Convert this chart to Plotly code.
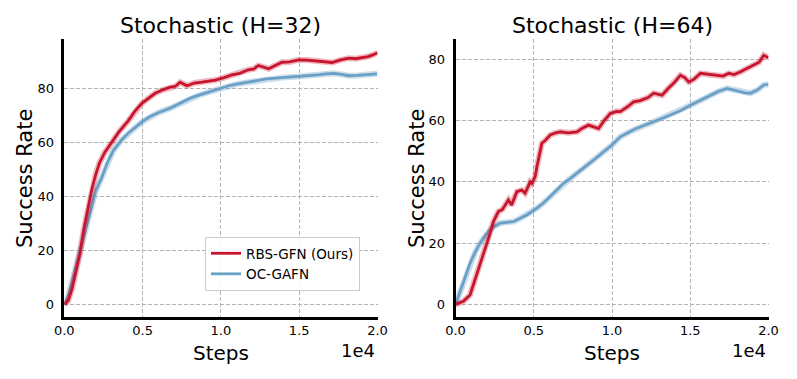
import plotly.graph_objects as go

# ---------------- data ----------------
steps_red32 = [0, 250, 500, 750, 1000, 1250, 1500, 1750, 2000, 2250, 2600, 3100, 3500, 4080, 4500,
               4950, 5400, 5800, 6300, 6760, 7100, 7400, 7830, 8300, 8800, 9300, 9640, 10200, 10700,
               11200, 11750, 12100, 12390, 13050, 13500, 13900, 14400, 14970, 15500, 16000, 16500,
               17100, 17600, 18170, 18600, 19020, 19400, 19700, 20000]
red32 = [0, 1.5, 6, 12, 19, 28, 35, 42.5, 48, 52.5, 56.5, 60.5, 64, 68, 71.5,
         74.5, 76.5, 78.2, 79.5, 80.5, 80.8, 82.3, 81, 82, 82.3, 82.8, 83.1, 84, 85,
         85.6, 86.9, 87.2, 88.5, 87.3, 88.5, 89.7, 89.8, 90.6, 90.5, 90.2, 90,
         89.6, 90.5, 91.2, 91, 91.3, 91.8, 92.4, 93.2]

steps_blue32 = [0, 250, 500, 750, 1000, 1250, 1500, 1750, 2000, 2390, 2750, 3130, 3670, 4100, 4630,
                5000, 5480, 6000, 6760, 7400, 8040, 8600, 9200, 9960, 10500, 11000, 11750, 12300,
                12900, 13900, 14970, 15500, 16200, 16700, 17200, 17700, 18170, 18700, 19300, 19980]
blue32 = [0, 3, 8.5, 14, 20, 26, 31, 37, 42, 47, 52.5, 57, 61, 63.5, 66,
          67.8, 69.6, 71, 72.7, 74.5, 76.4, 77.5, 78.6, 80, 81, 81.6, 82.3, 82.8,
          83.5, 84, 84.4, 84.6, 85, 85.4, 85.6, 85.2, 84.7, 84.8, 85, 85.4]

steps_red64 = [0, 500, 930, 1250, 1570, 1780, 2000, 2210, 2420, 2740, 3000, 3380, 3580, 3920, 4240,
               4450, 4770, 4880, 5090, 5200, 5520, 5730, 6050, 6400, 6690, 7200, 7760, 8100, 8500,
               8800, 9140, 9500, 9890, 10300, 10530, 11000, 11380, 11800, 12300, 12660, 13200,
               13600, 14000, 14370, 14650, 14900, 15250, 15650, 16200, 16720, 17100, 17460, 17800,
               18210, 18600, 19060, 19400, 19700, 20000]
red64 = [0, 1, 3.1, 8, 13.5, 16.7, 20, 23.2, 27, 30.3, 31, 34.1, 32.4, 36.8, 37.3,
         36.3, 40, 39.5, 41.7, 44.9, 52.6, 53.5, 55.3, 56, 56.3, 56, 56.3, 57.5, 58.5,
         58, 57.4, 60, 62.3, 63, 62.9, 64.5, 66.1, 66.5, 67.5, 68.9, 68.3,
         70.5, 72.5, 74.8, 74, 72.6, 73.5, 75.4, 75, 74.8, 74.5, 75.4, 75,
         75.9, 77, 78.1, 79, 81.3, 80.5]

steps_blue64 = [0, 500, 930, 1250, 1570, 1900, 2210, 2500, 2850, 3300, 3700, 4100, 4560, 5200, 5600,
                6050, 6500, 6900, 7300, 7760, 8200, 8610, 9000, 9460, 10000, 10530, 11000, 11500,
                12000, 12450, 13100, 13730, 14400, 15010, 15700, 16290, 16800, 17360, 17800, 18210,
                18500, 18850, 19300, 19700, 20000]
blue64 = [0, 6.9, 13.4, 17, 20, 22.5, 24.3, 25.5, 26.5, 26.8, 27, 28, 29.2, 31.4, 33,
          35.2, 37.5, 39.5, 41, 42.8, 44.5, 46, 47.8, 49.8, 52, 54.7, 56, 57.3,
          58.3, 59.1, 60.5, 61.8, 63.3, 65, 66.7, 68.3, 69.5, 70.5, 70, 69.4,
          69, 68.9, 70, 71.6, 71.8]

x_tickvals = [0, 5000, 10000, 15000, 20000]
x_ticktext = ["0.0", "0.5", "1.0", "1.5", "2.0"]
y_tickvals = [0, 20, 40, 60, 80]
titles = ["Stochastic (H=32)", "Stochastic (H=64)"]
series_names = ["RBS-GFN (Ours)", "OC-GAFN"]

# ---------------- style ----------------
RED = "#c8142c"
BLUE = "#6a9fc6"
RED_BAND = "rgba(200,20,44,0.30)"
BLUE_BAND = "rgba(106,159,198,0.35)"
FONT = "DejaVu Sans"
OFF = 8            # page body margin of the browser
W, H = 797 - 2 * OFF, 379 - 2 * OFF

def px(xr):
    return (xr - OFF) / W

def py(yr):
    return 1 - (yr - OFF) / H

fig = go.Figure()

def add_series(xs, ys, color, band, name, xa, ya, legend):
    fig.add_trace(go.Scatter(x=xs, y=ys, mode="lines", line=dict(color=band, width=6),
                             xaxis=xa, yaxis=ya, showlegend=False, hoverinfo="skip"))
    fig.add_trace(go.Scatter(x=xs, y=ys, mode="lines", line=dict(color=color, width=2.8),
                             name=name, xaxis=xa, yaxis=ya, showlegend=legend))

add_series(steps_blue32, blue32, BLUE, BLUE_BAND, series_names[1], "x", "y", False)
add_series(steps_red32, red32, RED, RED_BAND, series_names[0], "x", "y", True)
add_series(steps_blue64, blue64, BLUE, BLUE_BAND, series_names[1], "x2", "y2", False)
add_series(steps_red64, red64, RED, RED_BAND, series_names[0], "x2", "y2", False)
fig.add_trace(go.Scatter(x=[None], y=[None], mode="lines", line=dict(color=BLUE, width=2.8),
                         name=series_names[1], xaxis="x", yaxis="y", showlegend=True))

axis_common = dict(showline=True, linecolor="black", linewidth=2.5, mirror=False,
                   ticks="",
                   showgrid=True, gridcolor="#b4b4b4", griddash="4px,2px", gridwidth=1,
                   zeroline=False, automargin=False,
                   tickfont=dict(family=FONT, size=13, color="black"))

ydom = [py(317), py(39)]
fig.update_layout(
    width=W, height=H, margin=dict(l=0, r=0, t=0, b=0, autoexpand=False),
    plot_bgcolor="white", paper_bgcolor="white",
    xaxis=dict(domain=[px(64.3), px(377.5)], range=[0, 20000], tickvals=x_tickvals,
               ticktext=x_ticktext, anchor="y", **axis_common),
    yaxis=dict(domain=ydom, range=[-4.6, 98.3], tickvals=y_tickvals, anchor="x",
               ticklabelstandoff=5, **axis_common),
    xaxis2=dict(domain=[px(455.5), px(768.5)], range=[0, 20000], tickvals=x_tickvals,
                ticktext=x_ticktext, anchor="y2", **axis_common),
    yaxis2=dict(domain=ydom, range=[-4.1, 86.6], tickvals=y_tickvals, anchor="x2",
                ticklabelstandoff=5, **axis_common),
    legend=dict(x=px(360), y=py(291), xanchor="right", yanchor="bottom",
                bgcolor="rgba(255,255,255,0.85)", bordercolor="#cccccc", borderwidth=1,
                font=dict(family=FONT, size=13.5, color="black"), tracegroupgap=0),
    showlegend=True,
)

ann = []
for cx, t in zip([221, 612], titles):
    ann.append(dict(text=t, x=px(cx), y=py(25), xref="paper", yref="paper",
                    xanchor="center", yanchor="middle", showarrow=False,
                    font=dict(family=FONT, size=22, color="black")))
    ann.append(dict(text="Steps", x=px(cx), y=py(353), xref="paper", yref="paper",
                    xanchor="center", yanchor="middle", showarrow=False,
                    font=dict(family=FONT, size=20, color="black")))
for lx in [25, 417]:
    ann.append(dict(text="Success Rate", x=px(lx), y=py(179), xref="paper", yref="paper",
                    xanchor="center", yanchor="middle", showarrow=False, textangle=-90,
                    font=dict(family=FONT, size=21, color="black")))
for rx in [377, 768]:
    ann.append(dict(text="1e4", x=px(rx), y=py(350), xref="paper", yref="paper",
                    xanchor="right", yanchor="middle", showarrow=False,
                    font=dict(family=FONT, size=18, color="black")))
fig.update_layout(annotations=ann)

fig.write_html("out.html")
